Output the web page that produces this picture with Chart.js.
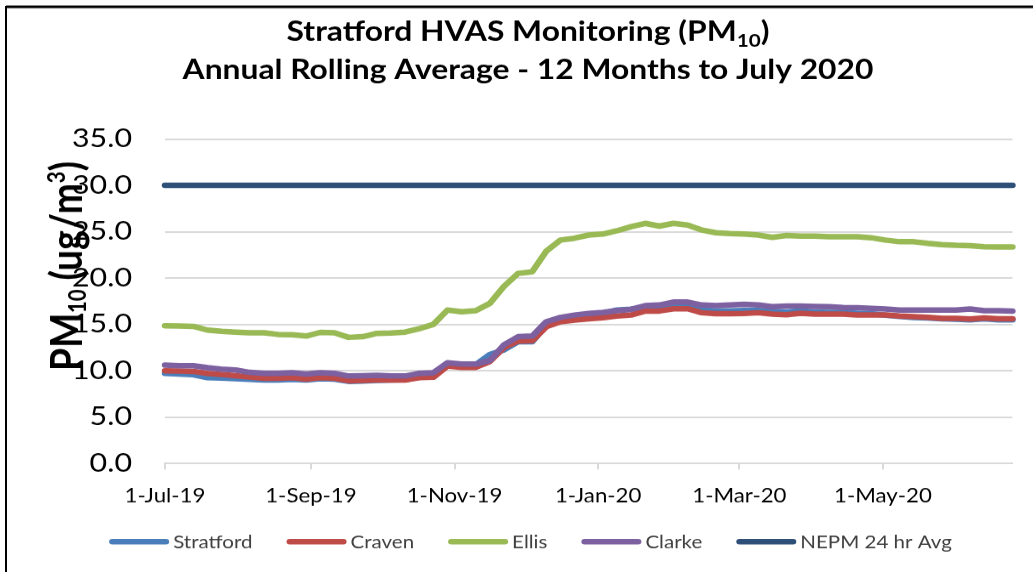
<!DOCTYPE html>
<html>
<head>
<meta charset="utf-8">
<script src="https://cdn.jsdelivr.net/npm/chart.js@4.4.1/dist/chart.umd.min.js"></script>
<style>
html,body{margin:0;padding:0;background:#fff;overflow:hidden;}
#wrap{position:absolute;left:0;top:0;width:1033px;height:673px;transform:scaleY(0.85);transform-origin:0 0;}
</style>
</head>
<body>
<div id="wrap"><canvas id="c"></canvas></div>
<script>
// ---------------- DATA ----------------
const sampleDates = [
 '2019-07-01','2019-07-07','2019-07-13','2019-07-19','2019-07-25','2019-07-31',
 '2019-08-06','2019-08-12','2019-08-18','2019-08-24','2019-08-30',
 '2019-09-05','2019-09-11','2019-09-17','2019-09-23','2019-09-29',
 '2019-10-05','2019-10-11','2019-10-17','2019-10-23','2019-10-29',
 '2019-11-04','2019-11-10','2019-11-16','2019-11-22','2019-11-28',
 '2019-12-04','2019-12-10','2019-12-16','2019-12-22','2019-12-28',
 '2020-01-03','2020-01-09','2020-01-15','2020-01-21','2020-01-27',
 '2020-02-02','2020-02-08','2020-02-14','2020-02-20','2020-02-26',
 '2020-03-03','2020-03-09','2020-03-15','2020-03-21','2020-03-27',
 '2020-04-02','2020-04-08','2020-04-14','2020-04-20','2020-04-26',
 '2020-05-02','2020-05-08','2020-05-14','2020-05-20','2020-05-26',
 '2020-06-01','2020-06-07','2020-06-13','2020-06-19','2020-06-25'
];
const stratford = [
 9.72,9.64,9.57,9.25,9.21,9.14,9.07,9.00,9.00,9.07,9.00,
 9.14,9.10,8.85,8.89,8.96,9.00,9.03,9.29,9.36,10.61,
 10.65,10.65,11.75,12.25,13.13,13.13,14.93,15.47,15.76,15.90,
 16.20,16.55,16.65,16.85,16.90,17.10,17.10,16.55,16.45,16.45,
 16.50,16.50,16.40,16.35,16.45,16.35,16.30,16.30,16.20,16.15,
 16.00,15.85,15.75,15.70,15.60,15.55,15.50,15.60,15.50,15.50
];
const craven = [
 10.00,9.97,9.93,9.72,9.61,9.46,9.32,9.18,9.18,9.25,9.10,
 9.25,9.18,8.92,8.96,9.00,9.00,9.00,9.25,9.29,10.51,
 10.36,10.36,11.00,12.50,13.20,13.24,14.75,15.29,15.47,15.61,
 15.72,15.90,16.01,16.44,16.44,16.69,16.69,16.26,16.15,16.15,
 16.19,16.26,16.12,16.05,16.20,16.12,16.12,16.12,16.01,16.01,
 16.01,15.90,15.83,15.76,15.65,15.65,15.58,15.69,15.61,15.61
];
const ellis = [
 14.86,14.82,14.79,14.39,14.25,14.17,14.10,14.10,13.92,13.89,13.74,
 14.14,14.10,13.60,13.67,14.03,14.07,14.17,14.53,15.00,16.55,
 16.37,16.48,17.27,19.10,20.50,20.68,22.90,24.10,24.30,24.64,
 24.75,25.10,25.54,25.90,25.60,25.90,25.72,25.18,24.89,24.80,
 24.75,24.64,24.39,24.60,24.53,24.53,24.46,24.46,24.46,24.35,
 24.10,23.92,23.92,23.74,23.60,23.53,23.49,23.38,23.35,23.35
];
const clarke = [
 10.61,10.54,10.54,10.33,10.18,10.08,9.82,9.72,9.72,9.79,9.64,
 9.79,9.72,9.43,9.46,9.50,9.43,9.43,9.72,9.79,10.87,
 10.72,10.72,11.10,12.80,13.67,13.74,15.29,15.76,16.01,16.19,
 16.30,16.48,16.62,17.02,17.09,17.41,17.41,17.09,17.02,17.09,
 17.16,17.09,16.91,16.98,16.98,16.94,16.91,16.83,16.80,16.73,
 16.66,16.55,16.55,16.55,16.55,16.55,16.66,16.48,16.48,16.44
];
const nepm = [
 30.0,30.0,30.0,30.0,30.0,30.0,30.0,30.0,30.0,30.0,30.0,
 30.0,30.0,30.0,30.0,30.0,30.0,30.0,30.0,30.0,30.0,
 30.0,30.0,30.0,30.0,30.0,30.0,30.0,30.0,30.0,30.0,
 30.0,30.0,30.0,30.0,30.0,30.0,30.0,30.0,30.0,30.0,
 30.0,30.0,30.0,30.0,30.0,30.0,30.0,30.0,30.0,30.0,
 30.0,30.0,30.0,30.0,30.0,30.0,30.0,30.0,30.0,30.0
];
const seriesNames = ['Stratford','Craven','Ellis','Clarke','NEPM 24 hr Avg'];
const xTickDates = ['2019-07-01','2019-09-01','2019-11-01','2020-01-01','2020-03-01','2020-05-01'];
const xTickLabels = ['1-Jul-19','1-Sep-19','1-Nov-19','1-Jan-20','1-Mar-20','1-May-20'];
const yTickValues = [0,5,10,15,20,25,30,35];

// ---------------- STYLE ----------------
const SQ = 0.85;               // vertical squash applied to the whole drawing
const H = 673;                 // unsquashed canvas height
const FAMILY = "Lato, 'Open Sans', 'DejaVu Sans', sans-serif";
const colors = ['#4a7ebb','#be4b48','#98b954','#7d60a0','#2d4f78'];
const LW = 6.5;

const DAY = 86400000;
const base = Date.UTC(2019,6,1);
function dayOf(s){ const [y,m,d] = s.split('-').map(Number); return Math.round((Date.UTC(y,m-1,d)-base)/DAY); }
const xs = sampleDates.map(dayOf);
const xTickDays = xTickDates.map(dayOf);

const mctx = document.createElement('canvas').getContext('2d');
function widthAt(parts, weight, size){
  let w = 0;
  for (const p of parts){ mctx.font = `${weight} ${size*(p.s||1)}px ${FAMILY}`; w += mctx.measureText(p.t).width; }
  return w;
}
function fitSize(parts, weight, target){ return 100*target/widthAt(parts, weight, 100); }

const title1 = [{t:'Stratford HVAS Monitoring (PM'},{t:'10',s:0.65,dy:0.2},{t:')'}];
const title2 = [{t:'Annual Rolling Average - 12 Months to July 2020'}];
const yTitle = [{t:'PM'},{t:'10',s:0.55,dy:0.1},{t:' (ug/m'},{t:'3',s:0.55,dy:-0.38},{t:')'}];

const t1Size = fitSize(title1,'bold',483);
const t2Size = fitSize(title2,'bold',691);
const ytSize = fitSize(yTitle,'bold',247);
const yTickSize = fitSize([{t:'35.0'}],'normal',60);
const xTickSize = fitSize([{t:'1-Jul-19'},{t:'1-Sep-19'},{t:'1-Nov-19'}],'normal',268);
const legSize = fitSize(seriesNames.map(n=>({t:n})),'normal',387);

function drawParts(ctx, parts, x, y, size, weight, color){
  ctx.fillStyle = color; ctx.textBaseline = 'alphabetic'; ctx.textAlign = 'left';
  for (const p of parts){
    const s = size*(p.s||1);
    ctx.font = `${weight} ${s}px ${FAMILY}`;
    ctx.fillText(p.t, x, y + (p.dy||0)*size);
    x += ctx.measureText(p.t).width;
  }
}

const decor = {
  id:'decor',
  afterDraw(chart){
    const ctx = chart.ctx;
    ctx.save();
    // outer frame
    ctx.strokeStyle = '#000'; ctx.lineWidth = 3;
    ctx.beginPath(); ctx.moveTo(6, 8); ctx.lineTo(1040, 8); ctx.stroke();
    ctx.lineWidth = 2;
    ctx.beginPath(); ctx.moveTo(6, 7); ctx.lineTo(6, H+10); ctx.stroke();
    // title
    const cx = 528;
    let w = widthAt(title1,'bold',t1Size);
    drawParts(ctx, title1, cx - w/2, 41/SQ, t1Size, 'bold', '#000');
    w = widthAt(title2,'bold',t2Size);
    drawParts(ctx, title2, cx - w/2, 79/SQ, t2Size, 'bold', '#000');
    // y axis title
    ctx.save();
    ctx.translate(82, 266/SQ);
    ctx.rotate(-Math.PI/2);
    w = widthAt(yTitle,'bold',ytSize);
    drawParts(ctx, yTitle, -w/2, 0, ytSize, 'bold', '#000');
    ctx.restore();
    // legend
    const items = chart.data.datasets.map((d,i)=>({label:d.label, color:d.borderColor, w: widthAt([{t:d.label}],'normal',legSize)}));
    const sample = 60, gapT = 4, gapI = 34;
    let total = 0;
    items.forEach((it,i)=>{ total += sample + gapT + it.w + (i<items.length-1?gapI:0); });
    let x = 530.5 - total/2;
    const ly = 541.7/SQ;
    ctx.font = `normal ${legSize}px ${FAMILY}`;
    ctx.textBaseline = 'middle';
    items.forEach(it=>{
      ctx.strokeStyle = it.color; ctx.lineWidth = LW; ctx.lineCap = 'round';
      ctx.beginPath(); ctx.moveTo(x + LW/2, ly); ctx.lineTo(x + sample - LW/2, ly); ctx.stroke();
      ctx.fillStyle = '#404040';
      ctx.fillText(it.label, x + sample + gapT, ly + 1);
      x += sample + gapT + it.w + gapI;
    });
    ctx.restore();
  }
};

const seriesValues = [stratford, craven, ellis, clarke, nepm];
const datasets = seriesValues.map((vals,i)=>({
  label: seriesNames[i],
  data: vals.map((v,j)=>({x: xs[j], y: v})),
  borderColor: colors[i],
  backgroundColor: colors[i],
  borderWidth: LW,
  borderCapStyle: 'round',
  borderJoinStyle: 'round',
  pointRadius: 0,
  tension: 0,
  fill: false,
  clip: false,
  order: 10 - i
}));

const chartBottom = 463.4/SQ;
const chartTop = 139/SQ;
const xLineH = xTickSize*1.2;

new Chart(document.getElementById('c'), {
  type: 'line',
  data: { datasets },
  plugins: [decor],
  options: {
    responsive: true,
    maintainAspectRatio: false,
    animation: false,
    events: [],
    layout: { padding: { left: 0, right: 1033 - (165 + 360*2.354), top: chartTop, bottom: 0 } },
    plugins: { legend: { display: false }, title: { display: false }, tooltip: { enabled: false } },
    scales: {
      x: {
        type: 'linear',
        min: 0,
        max: xs[xs.length-1],
        afterBuildTicks(s){ s.ticks = xTickDays.map(v=>({value:v})); },
        afterFit(s){ s.height = H - chartBottom; },
        ticks: {
          autoSkip: false,
          maxRotation: 0,
          padding: (496/SQ) - chartBottom - 7 - xLineH/2,
          color: '#000',
          font: { family: FAMILY, size: xTickSize },
          callback(v){ const k = xTickDays.indexOf(v); return k >= 0 ? xTickLabels[k] : ''; }
        },
        grid: { drawOnChartArea: false, drawTicks: true, tickLength: 7, color: '#d9d9d9', lineWidth: 2 },
        border: { display: true, color: '#d9d9d9', width: 2 }
      },
      y: {
        min: 0,
        max: 35,
        afterBuildTicks(s){ s.ticks = yTickValues.map(v=>({value:v})); },
        afterFit(s){ s.width = 165; },
        ticks: {
          padding: 33,
          color: '#000',
          font: { family: FAMILY, size: yTickSize },
          callback(v){ return Number(v).toFixed(1); }
        },
        grid: { drawTicks: false, color: '#d9d9d9', lineWidth: 2 },
        border: { display: false }
      }
    }
  }
});
</script>
</body>
</html>
